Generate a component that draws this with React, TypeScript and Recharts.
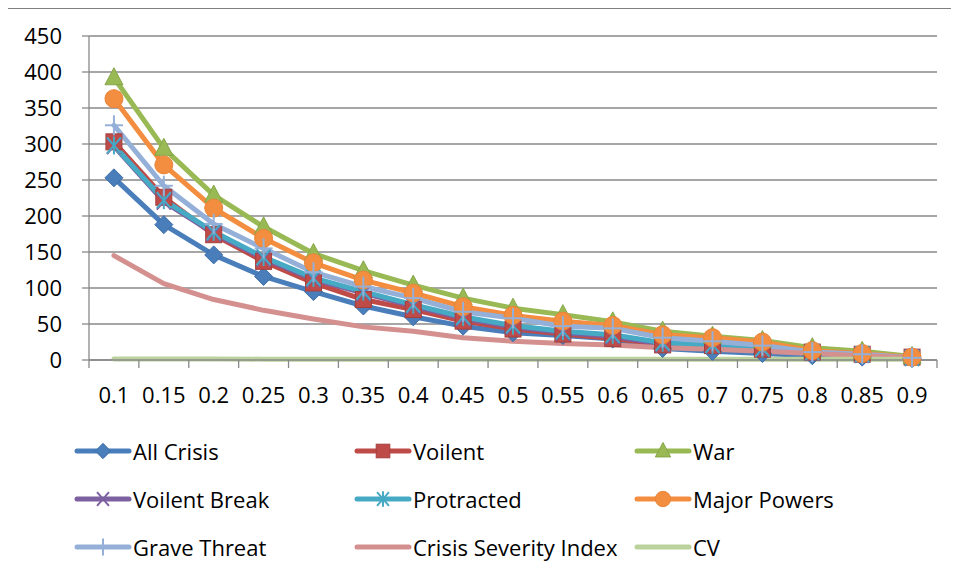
import React from "react";
import { LineChart, Line, XAxis, YAxis, CartesianGrid, Legend } from "recharts";

const categories = ["0.1", "0.15", "0.2", "0.25", "0.3", "0.35", "0.4", "0.45", "0.5", "0.55", "0.6", "0.65", "0.7", "0.75", "0.8", "0.85", "0.9"];
const allCrisis = [253, 188, 146, 116, 95, 75, 60, 47, 38, 34, 29, 16, 12, 9, 6, 4, 2];
const voilent = [303, 226, 174, 137, 107, 84, 70, 54, 43, 36, 30, 21, 20, 15, 11, 8, 4];
const war = [392, 294, 229, 185, 148, 124, 104, 86, 72, 63, 53, 40, 33, 27, 17, 12, 5];
const voilentBreak = [297, 220, 176, 141, 112, 93, 75, 58, 46, 38, 33, 22, 20, 15, 10, 7, 3];
const protracted = [298, 222, 178, 143, 114, 95, 77, 60, 48, 40, 35, 24, 21, 16, 11, 8, 3];
const majorPowers = [363, 271, 211, 169, 135, 111, 93, 74, 62, 54, 48, 35, 31, 25, 13, 9, 4];
const graveThreat = [326, 242, 189, 155, 122, 102, 86, 67, 58, 47, 44, 31, 26, 20, 11, 8, 3];
const severityIndex = [145, 106, 84, 69, 57, 46, 40, 31, 26, 23, 21, 17, 15, 12, 9, 6, 3];
const cv = [1.4, 1.3, 1.3, 1.2, 1.2, 1.2, 1.1, 1.1, 1.1, 1.1, 1.0, 1.0, 1.0, 1.0, 1.0, 1.0, 1.0];
const yTicks = [0, 50, 100, 150, 200, 250, 300, 350, 400, 450];

type Shape = "diamond" | "square" | "triangle" | "x" | "star" | "circle" | "plus" | "none";

const SERIES: { key: string; name: string; color: string; edge: string; shape: Shape; values: number[] }[] = [
  { key: "allCrisis", name: "All Crisis", color: "#4A7EBB", edge: "#3D6DA8", shape: "diamond", values: allCrisis },
  { key: "voilent", name: "Voilent", color: "#BE4B48", edge: "#A53F3C", shape: "square", values: voilent },
  { key: "war", name: "War", color: "#98B954", edge: "#86A647", shape: "triangle", values: war },
  { key: "voilentBreak", name: "Voilent Break", color: "#7D60A0", edge: "#7D60A0", shape: "x", values: voilentBreak },
  { key: "protracted", name: "Protracted", color: "#46AAC5", edge: "#46AAC5", shape: "star", values: protracted },
  { key: "majorPowers", name: "Major Powers", color: "#F38D3F", edge: "#E9853A", shape: "circle", values: majorPowers },
  { key: "graveThreat", name: "Grave Threat", color: "#94B0D8", edge: "#94B0D8", shape: "plus", values: graveThreat },
  { key: "severity", name: "Crisis Severity Index", color: "#D4908F", edge: "#D4908F", shape: "none", values: severityIndex },
  { key: "cv", name: "CV", color: "#BBD29C", edge: "#BBD29C", shape: "none", values: cv },
];

const data = categories.map((c, i) => {
  const row: Record<string, string | number> = { x: c };
  SERIES.forEach((s) => {
    row[s.key] = s.values[i];
  });
  return row;
});

const FONT = "'Open Sans', sans-serif";
const GRID = "#898989";
const W = 950;
const H = 572;
const M = { top: 27, right: 21, left: 0, bottom: 181 };
const Y_W = 81;
const STEP = (W - M.left - M.right - Y_W) / categories.length;

function Marker({ shape, cx, cy, color, edge, s = 1 }: { shape: Shape; cx: number; cy: number; color: string; edge: string; s?: number }) {
  if (cx == null || cy == null) return null;
  switch (shape) {
    case "diamond":
      return <polygon points={`${cx},${cy - 9 * s} ${cx + 9 * s},${cy} ${cx},${cy + 9 * s} ${cx - 9 * s},${cy}`} fill={color} stroke={edge} strokeWidth={1} />;
    case "square":
      return <rect x={cx - 8 * s} y={cy - 8 * s} width={16 * s} height={16 * s} fill={color} stroke={edge} strokeWidth={1} />;
    case "triangle":
      return <polygon points={`${cx},${cy - 10 * s} ${cx + 9 * s},${cy + 7 * s} ${cx - 9 * s},${cy + 7 * s}`} fill={color} stroke={edge} strokeWidth={1} />;
    case "circle":
      return <circle cx={cx} cy={cy} r={9 * s} fill={color} stroke={edge} strokeWidth={1} />;
    case "x":
      return (
        <g stroke={color} strokeWidth={2}>
          <line x1={cx - 7 * s} y1={cy - 8 * s} x2={cx + 7 * s} y2={cy + 8 * s} />
          <line x1={cx - 7 * s} y1={cy + 8 * s} x2={cx + 7 * s} y2={cy - 8 * s} />
        </g>
      );
    case "star":
      return (
        <g stroke={color} strokeWidth={2}>
          <line x1={cx - 7 * s} y1={cy - 8 * s} x2={cx + 7 * s} y2={cy + 8 * s} />
          <line x1={cx - 7 * s} y1={cy + 8 * s} x2={cx + 7 * s} y2={cy - 8 * s} />
          <line x1={cx} y1={cy - 9 * s} x2={cx} y2={cy + 9 * s} />
        </g>
      );
    case "plus":
      return (
        <g stroke={color} strokeWidth={2}>
          <line x1={cx - 9 * s} y1={cy} x2={cx + 9 * s} y2={cy} />
          <line x1={cx} y1={cy - 10 * s} x2={cx} y2={cy + 10 * s} />
        </g>
      );
    default:
      return null;
  }
}

const XTick = (props: any) => {
  const { x, y, payload, index } = props;
  const last = index === categories.length - 1;
  return (
    <g>
      <line x1={x - STEP / 2} y1={y - 8} x2={x - STEP / 2} y2={y} stroke={GRID} strokeWidth={1.3} />
      {last && <line x1={x + STEP / 2} y1={y - 8} x2={x + STEP / 2} y2={y} stroke={GRID} strokeWidth={1.3} />}
      <text x={x} y={y + 35} textAnchor="middle" fontFamily={FONT} fontSize={22} fill="#000">
        {payload.value}
      </text>
    </g>
  );
};

// legend keeps the series order (recharts sorts its payload by name)
const LegendGrid = () => (
  <div style={{ display: "grid", gridTemplateColumns: "280px 280px 280px", gridAutoRows: "48px", fontFamily: FONT, fontSize: 22 }}>
    {SERIES.map((s) => (
      <div key={s.key} style={{ display: "flex", alignItems: "center", height: 48, whiteSpace: "nowrap" }}>
        <svg width={58} height={24} style={{ flex: "none" }}>
          <line x1={3} y1={12} x2={55} y2={12} stroke={s.color} strokeWidth={5} strokeLinecap="round" />
          <Marker shape={s.shape} cx={29} cy={12} color={s.color} edge={s.edge} s={0.85} />
        </svg>
        <span style={{ color: "#000", marginLeft: 1 }}>{s.name}</span>
      </div>
    ))}
  </div>
);

export default function App() {
  return (
    <div style={{ width: 951, height: 573, marginLeft: -1, borderTop: "1px solid #7f7f7f", borderLeft: "1px solid #7f7f7f", boxSizing: "border-box", background: "#fff" }}>
      <LineChart width={W} height={H} data={data} margin={M}>
        <CartesianGrid vertical={false} stroke={GRID} strokeWidth={1.3} />
        <XAxis
          dataKey="x"
          padding={{ left: STEP / 2, right: STEP / 2 }}
          axisLine={{ stroke: GRID, strokeWidth: 1.3 }}
          tickLine={false}
          tickSize={8}
          tickMargin={0}
          height={40}
          interval={0}
          tick={<XTick />}
        />
        <YAxis
          domain={[0, 450]}
          ticks={yTicks}
          width={Y_W}
          axisLine={{ stroke: GRID, strokeWidth: 1.3 }}
          tickLine={{ stroke: GRID, strokeWidth: 1.3 }}
          tickSize={7}
          tickMargin={20}
          interval={0}
          tick={{ fill: "#000", fontSize: 22, fontFamily: FONT }}
        />
        <Legend
          layout="horizontal"
          verticalAlign="middle"
          align="center"
          wrapperStyle={{ left: 66, top: 418, width: 860 }}
          content={<LegendGrid />}
        />
        {SERIES.map((s) => (
          <Line
            key={s.key}
            dataKey={s.key}
            name={s.name}
            stroke={s.color}
            strokeWidth={5}
            strokeLinejoin="round"
            strokeLinecap="round"
            isAnimationActive={false}
            activeDot={false}
            dot={
              s.shape === "none"
                ? false
                : (p: any) => <Marker key={`${s.key}-${p.index}`} shape={s.shape} cx={p.cx} cy={p.cy} color={s.color} edge={s.edge} />
            }
          />
        ))}
      </LineChart>
    </div>
  );
}
